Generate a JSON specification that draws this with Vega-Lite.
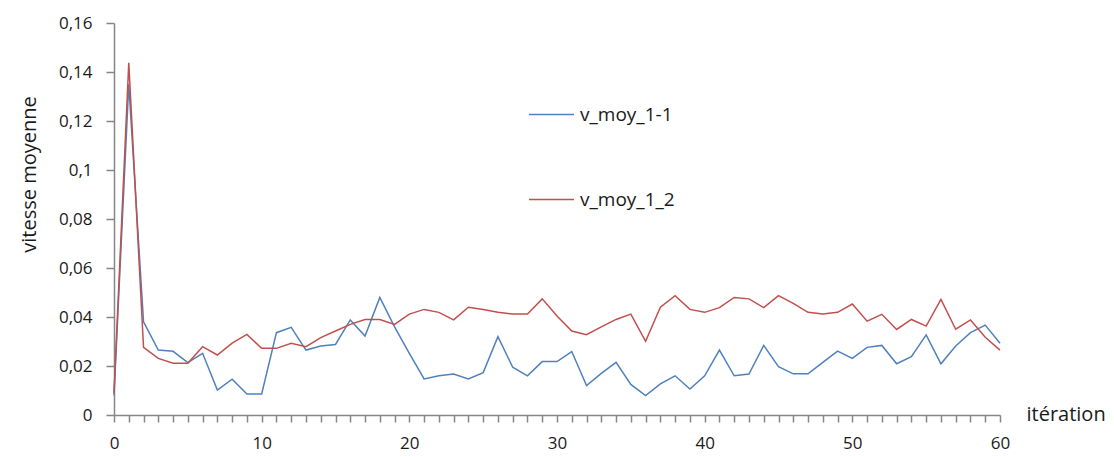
{
  "$schema": "https://vega.github.io/schema/vega-lite/v6.json",
  "width": 886,
  "height": 392,
  "autosize": "none",
  "padding": {"left": 114, "top": 23, "right": 114, "bottom": 42},
  "background": "white",
  "config": {"view": {"stroke": null}, "font": "Open Sans"},
  "data": {"values": [
    {"i":0,"s":"v_moy_1-1","v":0.008},{"i":1,"s":"v_moy_1-1","v":0.135},{"i":2,"s":"v_moy_1-1","v":0.038},{"i":3,"s":"v_moy_1-1","v":0.0265},{"i":4,"s":"v_moy_1-1","v":0.026},{"i":5,"s":"v_moy_1-1","v":0.0214},{"i":6,"s":"v_moy_1-1","v":0.0252},{"i":7,"s":"v_moy_1-1","v":0.0102},{"i":8,"s":"v_moy_1-1","v":0.0146},{"i":9,"s":"v_moy_1-1","v":0.0086},{"i":10,"s":"v_moy_1-1","v":0.0086},
    {"i":11,"s":"v_moy_1-1","v":0.0336},{"i":12,"s":"v_moy_1-1","v":0.0358},{"i":13,"s":"v_moy_1-1","v":0.0265},{"i":14,"s":"v_moy_1-1","v":0.0282},{"i":15,"s":"v_moy_1-1","v":0.0288},{"i":16,"s":"v_moy_1-1","v":0.0388},{"i":17,"s":"v_moy_1-1","v":0.0322},{"i":18,"s":"v_moy_1-1","v":0.048},{"i":19,"s":"v_moy_1-1","v":0.036},{"i":20,"s":"v_moy_1-1","v":0.0252},
    {"i":21,"s":"v_moy_1-1","v":0.0147},{"i":22,"s":"v_moy_1-1","v":0.016},{"i":23,"s":"v_moy_1-1","v":0.0167},{"i":24,"s":"v_moy_1-1","v":0.0147},{"i":25,"s":"v_moy_1-1","v":0.0173},{"i":26,"s":"v_moy_1-1","v":0.032},{"i":27,"s":"v_moy_1-1","v":0.0195},{"i":28,"s":"v_moy_1-1","v":0.016},{"i":29,"s":"v_moy_1-1","v":0.0218},{"i":30,"s":"v_moy_1-1","v":0.0218},
    {"i":31,"s":"v_moy_1-1","v":0.0259},{"i":32,"s":"v_moy_1-1","v":0.012},{"i":33,"s":"v_moy_1-1","v":0.017},{"i":34,"s":"v_moy_1-1","v":0.0215},{"i":35,"s":"v_moy_1-1","v":0.0125},{"i":36,"s":"v_moy_1-1","v":0.0079},{"i":37,"s":"v_moy_1-1","v":0.0127},{"i":38,"s":"v_moy_1-1","v":0.016},{"i":39,"s":"v_moy_1-1","v":0.0106},{"i":40,"s":"v_moy_1-1","v":0.016},
    {"i":41,"s":"v_moy_1-1","v":0.0265},{"i":42,"s":"v_moy_1-1","v":0.016},{"i":43,"s":"v_moy_1-1","v":0.0167},{"i":44,"s":"v_moy_1-1","v":0.0284},{"i":45,"s":"v_moy_1-1","v":0.0197},{"i":46,"s":"v_moy_1-1","v":0.0168},{"i":47,"s":"v_moy_1-1","v":0.0168},{"i":48,"s":"v_moy_1-1","v":0.0215},{"i":49,"s":"v_moy_1-1","v":0.0261},{"i":50,"s":"v_moy_1-1","v":0.0231},
    {"i":51,"s":"v_moy_1-1","v":0.0276},{"i":52,"s":"v_moy_1-1","v":0.0284},{"i":53,"s":"v_moy_1-1","v":0.0209},{"i":54,"s":"v_moy_1-1","v":0.0238},{"i":55,"s":"v_moy_1-1","v":0.0327},{"i":56,"s":"v_moy_1-1","v":0.0209},{"i":57,"s":"v_moy_1-1","v":0.0282},{"i":58,"s":"v_moy_1-1","v":0.0336},{"i":59,"s":"v_moy_1-1","v":0.0367},{"i":60,"s":"v_moy_1-1","v":0.0293},
    {"i":0,"s":"v_moy_1_2","v":0.009},{"i":1,"s":"v_moy_1_2","v":0.1438},{"i":2,"s":"v_moy_1_2","v":0.0276},{"i":3,"s":"v_moy_1_2","v":0.0231},{"i":4,"s":"v_moy_1_2","v":0.0211},{"i":5,"s":"v_moy_1_2","v":0.0211},{"i":6,"s":"v_moy_1_2","v":0.0279},{"i":7,"s":"v_moy_1_2","v":0.0245},{"i":8,"s":"v_moy_1_2","v":0.0293},{"i":9,"s":"v_moy_1_2","v":0.0329},{"i":10,"s":"v_moy_1_2","v":0.0272},
    {"i":11,"s":"v_moy_1_2","v":0.0272},{"i":12,"s":"v_moy_1_2","v":0.0293},{"i":13,"s":"v_moy_1_2","v":0.0279},{"i":14,"s":"v_moy_1_2","v":0.0316},{"i":15,"s":"v_moy_1_2","v":0.0343},{"i":16,"s":"v_moy_1_2","v":0.037},{"i":17,"s":"v_moy_1_2","v":0.039},{"i":18,"s":"v_moy_1_2","v":0.039},{"i":19,"s":"v_moy_1_2","v":0.037},{"i":20,"s":"v_moy_1_2","v":0.0412},
    {"i":21,"s":"v_moy_1_2","v":0.0431},{"i":22,"s":"v_moy_1_2","v":0.0419},{"i":23,"s":"v_moy_1_2","v":0.0388},{"i":24,"s":"v_moy_1_2","v":0.044},{"i":25,"s":"v_moy_1_2","v":0.0431},{"i":26,"s":"v_moy_1_2","v":0.0419},{"i":27,"s":"v_moy_1_2","v":0.0412},{"i":28,"s":"v_moy_1_2","v":0.0412},{"i":29,"s":"v_moy_1_2","v":0.0474},{"i":30,"s":"v_moy_1_2","v":0.0404},
    {"i":31,"s":"v_moy_1_2","v":0.0343},{"i":32,"s":"v_moy_1_2","v":0.0328},{"i":33,"s":"v_moy_1_2","v":0.036},{"i":34,"s":"v_moy_1_2","v":0.039},{"i":35,"s":"v_moy_1_2","v":0.0412},{"i":36,"s":"v_moy_1_2","v":0.0301},{"i":37,"s":"v_moy_1_2","v":0.044},{"i":38,"s":"v_moy_1_2","v":0.0487},{"i":39,"s":"v_moy_1_2","v":0.0431},{"i":40,"s":"v_moy_1_2","v":0.0419},
    {"i":41,"s":"v_moy_1_2","v":0.0438},{"i":42,"s":"v_moy_1_2","v":0.048},{"i":43,"s":"v_moy_1_2","v":0.0474},{"i":44,"s":"v_moy_1_2","v":0.0438},{"i":45,"s":"v_moy_1_2","v":0.0487},{"i":46,"s":"v_moy_1_2","v":0.0456},{"i":47,"s":"v_moy_1_2","v":0.0419},{"i":48,"s":"v_moy_1_2","v":0.0412},{"i":49,"s":"v_moy_1_2","v":0.0419},{"i":50,"s":"v_moy_1_2","v":0.0453},
    {"i":51,"s":"v_moy_1_2","v":0.0383},{"i":52,"s":"v_moy_1_2","v":0.0411},{"i":53,"s":"v_moy_1_2","v":0.0349},{"i":54,"s":"v_moy_1_2","v":0.039},{"i":55,"s":"v_moy_1_2","v":0.0363},{"i":56,"s":"v_moy_1_2","v":0.0472},{"i":57,"s":"v_moy_1_2","v":0.035},{"i":58,"s":"v_moy_1_2","v":0.0388},{"i":59,"s":"v_moy_1_2","v":0.0317},{"i":60,"s":"v_moy_1_2","v":0.0265}
  ]},
  "mark": {"type": "line", "strokeWidth": 1.5},
  "encoding": {
    "x": {
      "field": "i", "type": "quantitative",
      "scale": {"domain": [0, 60], "nice": false, "zero": true},
      "axis": {
        "values": [0,1,2,3,4,5,6,7,8,9,10,11,12,13,14,15,16,17,18,19,20,21,22,23,24,25,26,27,28,29,30,31,32,33,34,35,36,37,38,39,40,41,42,43,44,45,46,47,48,49,50,51,52,53,54,55,56,57,58,59,60],
        "labelExpr": "datum.value % 10 == 0 ? datum.label : ''",
        "grid": false,
        "domainColor": "#868686", "tickColor": "#868686", "domainWidth": 1.5, "tickWidth": 1.5,
        "tickSize": 7, "labelPadding": 13, "labelFontSize": 17, "labelColor": "#1a1a1a",
        "labelFlush": false, "labelOverlap": false,
        "title": "itération", "titleFontSize": 20, "titleFontWeight": "normal", "titleColor": "#1a1a1a",
        "titleX": 912, "titleY": -1, "titleAlign": "left", "titleBaseline": "middle", "titleAnchor": null
      }
    },
    "y": {
      "field": "v", "type": "quantitative",
      "scale": {"domain": [0, 0.16], "nice": false},
      "axis": {
        "values": [0, 0.02, 0.04, 0.06, 0.08, 0.1, 0.12, 0.14, 0.16],
        "labelExpr": "replace(format(datum.value, '.2~f'), '.', ',')",
        "grid": false,
        "domainColor": "#868686", "tickColor": "#868686", "domainWidth": 1.5, "tickWidth": 1.5,
        "tickSize": 8, "labelPadding": 14, "labelFontSize": 17, "labelColor": "#1a1a1a",
        "title": "vitesse moyenne", "titleFontSize": 20, "titleFontWeight": "normal", "titleColor": "#1a1a1a",
        "titleX": -85, "titleY": 151, "titleAngle": -90, "titleAlign": "center", "titleBaseline": "middle", "titleAnchor": null
      }
    },
    "color": {
      "field": "s", "type": "nominal",
      "scale": {"domain": ["v_moy_1-1", "v_moy_1_2"], "range": ["#4F81BD", "#C0504D"]},
      "legend": {
        "orient": "none", "legendX": 414, "legendY": 68, "title": null,
        "symbolType": "stroke", "symbolSize": 2025, "symbolStrokeWidth": 1.5,
        "labelFontSize": 19, "labelColor": "#1a1a1a", "labelOffset": 5,
        "rowPadding": 51, "direction": "vertical"
      }
    }
  }
}
